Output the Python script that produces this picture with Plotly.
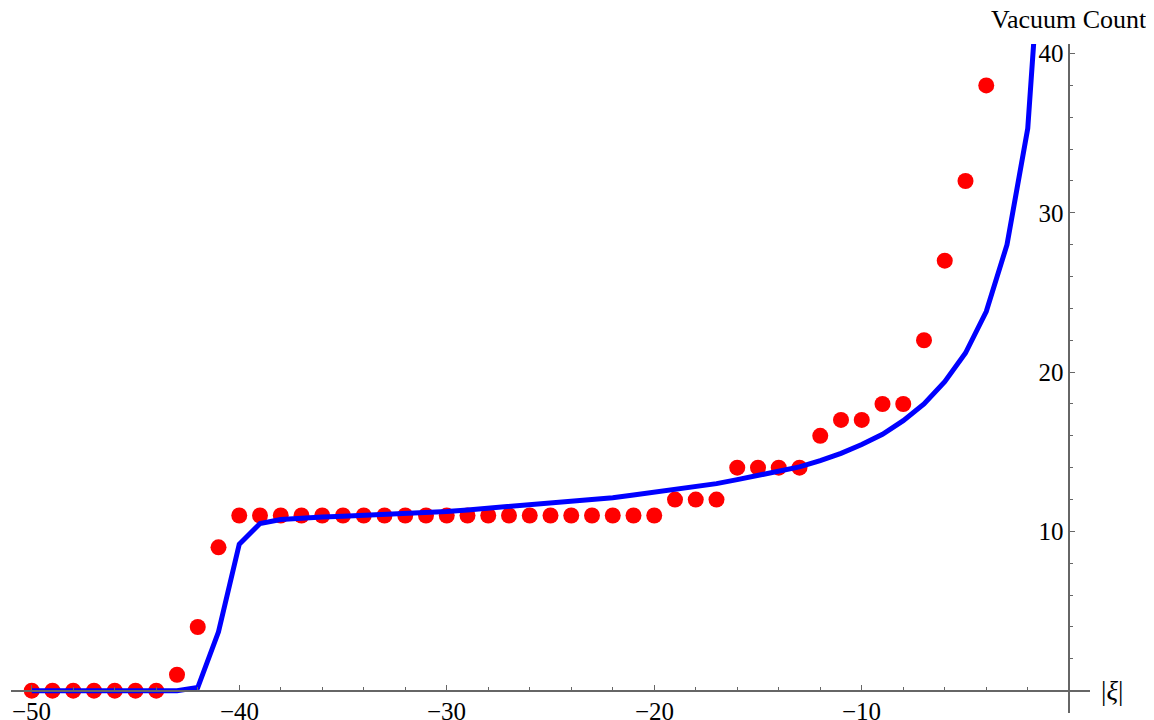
import plotly.graph_objects as go

# Red data points (vacuum count)
pts_x = list(range(-50, -3))
pts_y = [0, 0, 0, 0, 0, 0, 0, 1, 4, 9,
         11, 11, 11, 11, 11, 11, 11, 11, 11, 11,
         11, 11, 11, 11, 11, 11, 11, 11, 11, 11,
         11, 12, 12, 12, 14, 14, 14, 14, 16, 17,
         17, 18, 18, 22, 27, 32, 38]

# Blue curve (sampled at integers)
line_x = list(range(-50, 0))
line_y = [0, 0, 0, 0, 0, 0, 0, 0, 0.2, 3.7,
          9.2, 10.5, 10.75, 10.85, 10.9, 10.95, 11.0, 11.05, 11.1, 11.2,
          11.25, 11.35, 11.45, 11.55, 11.65, 11.75, 11.85, 11.97, 12.12, 12.28,
          12.45, 12.62, 12.8, 13.0, 13.25, 13.5, 13.75, 14.05, 14.45, 14.9,
          15.45, 16.1, 16.95, 18.0, 19.4, 21.2, 23.8, 28.0, 35.3, 54.0]

x_ticks = [-50, -40, -30, -20, -10]
x_tick_labels = ["\u221250", "\u221240", "\u221230", "\u221220", "\u221210"]
y_ticks = [10, 20, 30, 40]

x_range = [-51, 1]
y_range = [-1.4, 40.6]

fig = go.Figure()
fig.add_trace(go.Scatter(x=pts_x, y=pts_y, mode="markers",
                         marker=dict(color="#FF0000", size=16, line=dict(width=0)),
                         cliponaxis=True, showlegend=False))
fig.add_trace(go.Scatter(x=line_x, y=line_y, mode="lines",
                         line=dict(color="#0000FF", width=5),
                         cliponaxis=True, showlegend=False))

font_family = "Liberation Serif"
axis_col = "#666666"

xpos = (0 - y_range[0]) / (y_range[1] - y_range[0])
ypos = (0 - x_range[0]) / (x_range[1] - x_range[0])

annotations = [
    dict(text="Vacuum Count", xref="paper", yref="paper",
         x=ypos, y=1.036, xanchor="center", yanchor="middle",
         showarrow=False, font=dict(family=font_family, size=26, color="black")),
    dict(text="|<i>ξ</i>|", xref="paper", yref="paper",
         x=1.020, y=xpos, xanchor="center", yanchor="middle",
         showarrow=False, font=dict(family=font_family, size=27, color="black")),
]
for v, lab in zip(x_ticks, x_tick_labels):
    annotations.append(dict(text=lab, xref="x", yref="y", x=v, y=0,
                            xanchor="center", yanchor="top", yshift=-6,
                            showarrow=False, borderpad=0,
                            font=dict(family=font_family, size=25, color="black")))

fig.update_layout(
    width=1146, height=720,
    margin=dict(l=3, r=64, t=36, b=15, autoexpand=False),
    paper_bgcolor="white", plot_bgcolor="white",
    font=dict(family=font_family, size=25, color="black"),
    xaxis=dict(range=x_range, anchor="free", position=xpos, automargin=False,
               showgrid=False, zeroline=False, showline=True,
               linecolor=axis_col, linewidth=1.5,
               tickmode="array", tickvals=x_ticks, showticklabels=False,
               ticks="inside", ticklen=5, tickwidth=1.2, tickcolor=axis_col,
               minor=dict(dtick=2, tick0=0, ticks="inside", ticklen=3,
                          tickwidth=1, tickcolor=axis_col, showgrid=False)),
    yaxis=dict(range=y_range, anchor="free", position=ypos, automargin=False,
               showgrid=False, zeroline=False, showline=True,
               linecolor=axis_col, linewidth=1.5,
               tickmode="array", tickvals=y_ticks,
               ticks="inside", ticklen=5, tickwidth=1.2, tickcolor=axis_col,
               minor=dict(dtick=2, tick0=0, ticks="inside", ticklen=3,
                          tickwidth=1, tickcolor=axis_col, showgrid=False),
               tickfont=dict(family=font_family, size=25, color="black")),
    annotations=annotations,
)

fig.write_html("out.html")
